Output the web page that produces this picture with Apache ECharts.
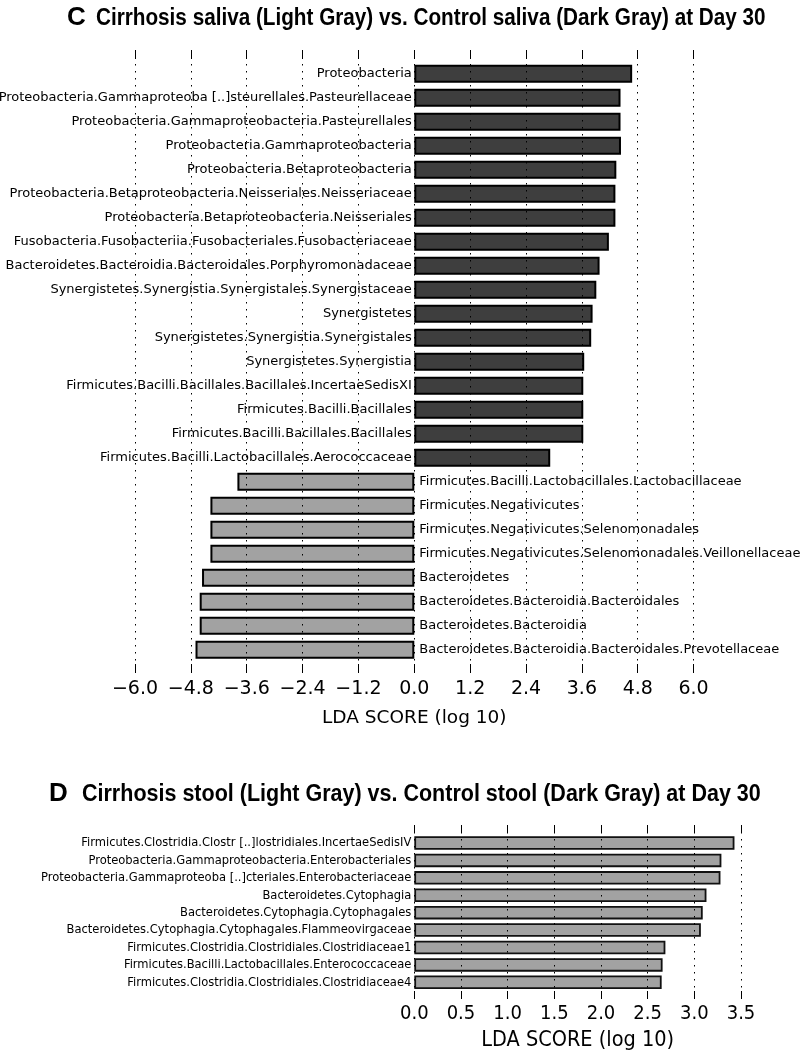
<!DOCTYPE html>
<html>
<head>
<meta charset="utf-8">
<script src="https://cdn.jsdelivr.net/npm/echarts@6/dist/echarts.min.js"></script>
<style>
  html, body { margin: 0; padding: 0; background: #fff; }
  #chart { width: 800px; height: 1052px; }
</style>
</head>
<body>
<div id="chart"></div>
<script>
// ---- Panel C data ----
const salivaControlNames = [
  'Proteobacteria',
  'Proteobacteria.Gammaproteoba [..]steurellales.Pasteurellaceae',
  'Proteobacteria.Gammaproteobacteria.Pasteurellales',
  'Proteobacteria.Gammaproteobacteria',
  'Proteobacteria.Betaproteobacteria',
  'Proteobacteria.Betaproteobacteria.Neisseriales.Neisseriaceae',
  'Proteobacteria.Betaproteobacteria.Neisseriales',
  'Fusobacteria.Fusobacteriia.Fusobacteriales.Fusobacteriaceae',
  'Bacteroidetes.Bacteroidia.Bacteroidales.Porphyromonadaceae',
  'Synergistetes.Synergistia.Synergistales.Synergistaceae',
  'Synergistetes',
  'Synergistetes.Synergistia.Synergistales',
  'Synergistetes.Synergistia',
  'Firmicutes.Bacilli.Bacillales.Bacillales.IncertaeSedisXI',
  'Firmicutes.Bacilli.Bacillales',
  'Firmicutes.Bacilli.Bacillales.Bacillales',
  'Firmicutes.Bacilli.Lactobacillales.Aerococcaceae'
];
const salivaControlValues = [4.68, 4.43, 4.43, 4.44, 4.34, 4.32, 4.32, 4.18, 3.98, 3.91, 3.83, 3.80, 3.65, 3.63, 3.63, 3.63, 2.92];

const salivaCirrhosisNames = [
  'Firmicutes.Bacilli.Lactobacillales.Lactobacillaceae',
  'Firmicutes.Negativicutes',
  'Firmicutes.Negativicutes.Selenomonadales',
  'Firmicutes.Negativicutes.Selenomonadales.Veillonellaceae',
  'Bacteroidetes',
  'Bacteroidetes.Bacteroidia.Bacteroidales',
  'Bacteroidetes.Bacteroidia',
  'Bacteroidetes.Bacteroidia.Bacteroidales.Prevotellaceae'
];
const salivaCirrhosisValues = [-3.80, -4.38, -4.38, -4.38, -4.56, -4.61, -4.61, -4.70];

const salivaTicks = [-6.0, -4.8, -3.6, -2.4, -1.2, 0.0, 1.2, 2.4, 3.6, 4.8, 6.0];

// ---- Panel D data ----
const stoolCirrhosisNames = [
  'Firmicutes.Clostridia.Clostr [..]lostridiales.IncertaeSedisIV',
  'Proteobacteria.Gammaproteobacteria.Enterobacteriales',
  'Proteobacteria.Gammaproteoba [..]cteriales.Enterobacteriaceae',
  'Bacteroidetes.Cytophagia',
  'Bacteroidetes.Cytophagia.Cytophagales',
  'Bacteroidetes.Cytophagia.Cytophagales.Flammeovirgaceae',
  'Firmicutes.Clostridia.Clostridiales.Clostridiaceae1',
  'Firmicutes.Bacilli.Lactobacillales.Enterococcaceae',
  'Firmicutes.Clostridia.Clostridiales.Clostridiaceae4'
];
const stoolCirrhosisValues = [3.43, 3.29, 3.28, 3.13, 3.09, 3.07, 2.69, 2.66, 2.65];

const stoolTicks = [0.0, 0.5, 1.0, 1.5, 2.0, 2.5, 3.0, 3.5];

// ---- build ----
const salivaCats = salivaControlNames.concat(salivaCirrhosisNames);
const nDark = salivaControlNames.length;
const darkData = salivaCats.map((c, i) => i < nDark ? salivaControlValues[i] : '-');
const lightData = salivaCats.map((c, i) => i >= nDark ? salivaCirrhosisValues[i - nDark] : '-');

const DARK = '#3e3e3e', LIGHT = '#a2a2a2';
const fmt = v => v.toFixed(1).replace('-', '\u2212');

const C = { left: 135, width: 558.6, barTop: 61.7, barH: 600, frameTop: 50, frameH: 623 };
const D = { left: 414.3, width: 326.7, barTop: 834.3, barH: 156.7, frameTop: 825, frameH: 175 };

const gridLine = { show: true, lineStyle: { color: '#000', width: 1, type: [1.5, 5.5] } };
const TITLE_FONT = '"Liberation Sans Narrow", "Liberation Sans", sans-serif';
const COND = 'DejaVu Sans Condensed, DejaVu Sans';

const option = {
  animation: false,
  backgroundColor: '#fff',
  grid: [
    { left: C.left, width: C.width, top: C.barTop, height: C.barH },
    { left: C.left, width: C.width, top: C.frameTop, height: C.frameH },
    { left: D.left, width: D.width, top: D.barTop, height: D.barH },
    { left: D.left, width: D.width, top: D.frameTop, height: D.frameH }
  ],
  xAxis: [
    { gridIndex: 0, type: 'value', min: salivaTicks[0], max: salivaTicks[salivaTicks.length - 1], interval: 1.2, show: false },
    { gridIndex: 1, type: 'value', min: salivaTicks[0], max: salivaTicks[salivaTicks.length - 1], interval: 1.2, position: 'bottom', z: 5,
      axisLine: { show: false },
      axisTick: { show: true, inside: true, length: 9, lineStyle: { color: '#000', width: 1 } },
      splitLine: gridLine,
      axisLabel: { show: true, margin: 7, fontFamily: 'DejaVu Sans', fontSize: 19, color: '#000', formatter: fmt, showMinLabel: true, showMaxLabel: true },
      name: 'LDA SCORE (log 10)', nameLocation: 'middle', nameGap: 35.5,
      nameTextStyle: { fontFamily: 'DejaVu Sans', fontSize: 18.5, color: '#000' }
    },
    { gridIndex: 1, type: 'value', min: salivaTicks[0], max: salivaTicks[salivaTicks.length - 1], interval: 1.2, position: 'top', z: 5,
      axisLine: { show: false },
      axisTick: { show: true, inside: true, length: 9, lineStyle: { color: '#000', width: 1 } },
      splitLine: { show: false }, axisLabel: { show: false }
    },
    { gridIndex: 2, type: 'value', min: stoolTicks[0], max: stoolTicks[stoolTicks.length - 1], interval: 0.5, show: false },
    { gridIndex: 3, type: 'value', min: stoolTicks[0], max: stoolTicks[stoolTicks.length - 1], interval: 0.5, position: 'bottom', z: 5,
      axisLine: { show: false },
      axisTick: { show: true, inside: true, length: 8, lineStyle: { color: '#000', width: 1 } },
      splitLine: gridLine,
      axisLabel: { show: true, margin: 5, fontFamily: COND, fontSize: 20, color: '#000', formatter: fmt, showMinLabel: true, showMaxLabel: true },
      name: 'LDA SCORE (log 10)', nameLocation: 'middle', nameGap: 30,
      nameTextStyle: { fontFamily: COND, fontSize: 21.5, color: '#000' }
    },
    { gridIndex: 3, type: 'value', min: stoolTicks[0], max: stoolTicks[stoolTicks.length - 1], interval: 0.5, position: 'top', z: 5,
      axisLine: { show: false },
      axisTick: { show: true, inside: true, length: 7, lineStyle: { color: '#000', width: 1 } },
      splitLine: { show: false }, axisLabel: { show: false }
    }
  ],
  yAxis: [
    { gridIndex: 0, type: 'category', data: salivaCats, inverse: true, show: false },
    { gridIndex: 1, type: 'value', min: 0, max: 1, show: false },
    { gridIndex: 2, type: 'category', data: stoolCirrhosisNames, inverse: true, show: false },
    { gridIndex: 3, type: 'value', min: 0, max: 1, show: false }
  ],
  series: [
    { type: 'bar', name: 'Control saliva', xAxisIndex: 0, yAxisIndex: 0, data: darkData,
      barWidth: 18, barGap: '-100%',
      itemStyle: { color: DARK, borderColor: '#000', borderWidth: 2 },
      label: { show: true, position: 'left', distance: 2.5, formatter: '{b}', color: '#000', fontFamily: 'DejaVu Sans', fontSize: 13 }
    },
    { type: 'bar', name: 'Cirrhosis saliva', xAxisIndex: 0, yAxisIndex: 0, data: lightData,
      barWidth: 18, barGap: '-100%',
      itemStyle: { color: LIGHT, borderColor: '#000', borderWidth: 2 },
      label: { show: true, position: 'right', distance: 5, formatter: '{b}', color: '#000', fontFamily: 'DejaVu Sans', fontSize: 13 }
    },
    { type: 'bar', name: 'Cirrhosis stool', xAxisIndex: 3, yAxisIndex: 2, data: stoolCirrhosisValues,
      barWidth: 13.5,
      itemStyle: { color: LIGHT, borderColor: '#111', borderWidth: 1.8 },
      label: { show: true, position: 'left', distance: 3, formatter: '{b}', color: '#000', fontFamily: COND, fontSize: 12.8 }
    }
  ],
  graphic: [
    { type: 'text', x: 67, y: 18, style: { text: 'C', font: 'bold 26px ' + TITLE_FONT, fill: '#000', verticalAlign: 'middle' } },
    { type: 'text', x: 96, y: 19, scaleX: 0.9, style: { text: 'Cirrhosis saliva (Light Gray) vs. Control saliva (Dark Gray) at Day 30', font: 'bold 23px ' + TITLE_FONT, fill: '#000', verticalAlign: 'middle' } },
    { type: 'text', x: 49, y: 794, style: { text: 'D', font: 'bold 26px ' + TITLE_FONT, fill: '#000', verticalAlign: 'middle' } },
    { type: 'text', x: 82, y: 795, scaleX: 0.935, style: { text: 'Cirrhosis stool (Light Gray) vs. Control stool (Dark Gray) at Day 30', font: 'bold 23px ' + TITLE_FONT, fill: '#000', verticalAlign: 'middle' } }
  ]
};

const chart = echarts.init(document.getElementById('chart'), null, { renderer: 'canvas' });
chart.setOption(option);
</script>
</body>
</html>
